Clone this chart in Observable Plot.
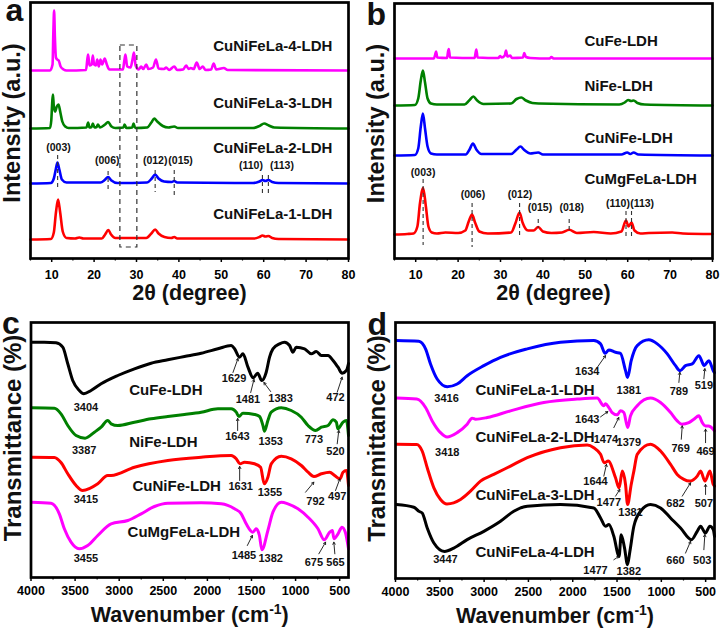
<!DOCTYPE html>
<html><head><meta charset="utf-8">
<script src="https://cdn.jsdelivr.net/npm/d3@7"></script>
<script src="https://cdn.jsdelivr.net/npm/@observablehq/plot@0.6"></script>
<style>
body{margin:0;background:#fff;}
#fig{position:relative;width:720px;height:631px;overflow:hidden;background:#fff;}
#fig > div{position:absolute;}
</style></head><body><div id="fig"></div>
<script>
// ---------- Panel a: XRD of CuNiFeLa-x-LDH (2θ, offset intensity) ----------
const xrdA_CuNiFeLa4 = [[5,188],[9.6,188],[10.2,194],[10.4,228],[10.57,248],[10.75,222],[11.0,201],[11.3,199],[11.65,198],[12.1,192],[12.8,189],[13.5,188],[18.1,188.5],[18.4,199],[18.6,204],[18.9,193],[19.4,194],[19.7,203],[20.0,194],[20.4,193],[20.75,199],[21.1,192],[21.5,199],[21.9,194],[22.5,200],[23.0,194],[23.6,189],[26.8,189],[27.1,197],[27.4,204],[27.8,192],[28.6,191],[29.1,200],[29.4,206],[29.8,193],[30.5,189],[31.1,192],[31.6,189.5],[32.3,194],[32.8,189.5],[33.9,191],[34.6,199],[35.2,190],[36.5,189.5],[37.0,191],[37.7,188.5],[38.9,192],[39.6,188.5],[41.0,189],[41.7,193],[42.3,189.5],[42.8,190.5],[43.5,189.5],[44.2,196],[44.9,189.5],[45.6,192],[46.3,188.5],[47.6,189],[48.2,195],[48.8,189],[50.6,190.5],[51.5,188.5],[80,188]];
const xrdA_CuNiFeLa3 = [[5,130],[9.6,130.5],[9.9,138],[10.15,158],[10.3,164],[10.5,152],[10.8,147],[11.2,152],[11.6,154],[12.0,147],[12.5,137],[13.2,132],[14,130.5],[18.2,131],[18.6,136],[18.9,131],[19.4,131.5],[19.7,135],[20.1,131],[20.6,131.5],[20.9,134],[21.4,131],[22.6,134],[23.3,136.5],[24.1,132],[25,130.5],[26.9,131],[27.2,134],[27.6,130.5],[29.0,131],[29.3,135],[29.7,130.5],[32.5,131],[33.5,136],[34.2,140],[34.9,137],[36.2,132.5],[37.5,131],[38.9,132],[39.8,130.5],[45,130.5],[57.5,130.5],[59.0,132.5],[60.1,135],[61.2,133],[62.5,131],[80,130]];
const xrdA_CuNiFeLa2 = [[5,75],[9.8,75.5],[10.5,80],[11.0,90],[11.35,96],[11.8,89],[12.4,79],[13.5,76],[21.5,76],[22.5,78.5],[23.3,81.5],[24.1,78],[25.5,75.5],[32.5,76],[33.6,80],[34.4,84],[35.2,80],[36.5,77],[38.3,76.5],[38.9,77.5],[39.6,76],[57.5,75.5],[59.0,77],[59.7,78.5],[60.4,77.5],[61.1,78.5],[62.0,76.5],[63.5,75.5],[80,75]];
const xrdA_CuNiFeLa1 = [[5,19],[9.8,19.5],[10.5,26],[11.0,46],[11.5,59],[12.0,46],[12.6,27],[13.5,20.5],[15.5,20],[16.5,21],[17.5,20],[21.8,20],[22.6,24],[23.35,28.5],[24.0,24],[25.0,20.5],[32.3,20.5],[33.5,25],[34.4,29],[35.2,25],[36.6,21.5],[38.2,20.5],[38.9,21.5],[39.6,20],[57.8,20],[59.0,21.5],[59.7,23],[60.4,22],[61.1,22.5],[62.0,20.5],[63.5,19.5],[80,19]];
const namesA = ["CuNiFeLa-4-LDH","CuNiFeLa-3-LDH","CuNiFeLa-2-LDH","CuNiFeLa-1-LDH"];
const nameAnchorsA = [[76.2,212.5],[76.2,155],[76.2,110.5],[76.2,44]];
const millerA = [["(003)",11.6,111],["(006)",23.1,98],["(012)",34.4,98],["(015)",40.4,98],["(110)",57.0,93],["(113)",64.3,93]];
const millerRulesA = [[11.4,103,71],[23.3,87,66],[34.4,88,66],[38.9,88,61],[59.7,83,63],[61.1,83,63]];
const boxA = [[26.2,30.2,11,213]];

// ---------- Panel b: XRD of reference LDHs ----------
const xrdB_CuFe = [[5,200],[14.3,200],[14.6,204],[14.8,207],[15.1,201],[17.4,200.5],[17.6,206],[17.8,209.5],[18.1,201],[23.9,200.5],[24.1,205],[24.3,209],[24.6,201],[29.5,200.5],[29.9,202.5],[30.3,201],[31.0,203],[31.3,208],[31.6,202],[32.3,203],[32.7,200.5],[35.3,201],[35.6,205.5],[36.0,201.5],[37,200.5],[41.6,200],[42,201.5],[42.5,200],[80,200]];
const xrdB_NiFe = [[5,153],[9.8,153.5],[10.6,160],[11.2,178],[11.7,188],[12.2,176],[12.8,160],[13.6,155],[15,154],[21.5,154],[22.6,158],[23.6,162],[24.5,158],[26,154.5],[32.5,155],[33.8,159.5],[34.9,161],[36.0,158],[37.5,155.5],[39,155],[58,154],[59.3,156],[60.1,158.5],[60.8,157.5],[61.4,158],[62.3,155.5],[64,154],[80,153]];
const xrdB_CuNiFe = [[5,103],[9.8,103.5],[10.6,110],[11.2,132],[11.7,145],[12.2,130],[12.8,112],[13.6,105],[15,104],[21.8,104],[22.7,109],[23.5,115],[24.3,109],[25.5,104.5],[32.5,104.5],[33.8,109],[34.7,112],[35.6,108.5],[37,105],[38.9,106],[40,104],[58.5,104],[59.9,106],[60.6,104.5],[61.4,106],[62.5,104],[80,103]];
const xrdB_CuMgFeLa = [[5,24],[8,24.5],[9.5,25],[10.4,32],[11.0,55],[11.75,70.5],[12.4,52],[13.0,32],[13.8,26],[15,25],[17,26],[20,25.5],[21.7,28],[22.5,37],[23.3,44],[24.0,36],[25,27],[27,25],[32.5,26],[33.5,35],[34.5,46],[35.2,36],[36.5,28],[37.8,28],[38.9,31.5],[40.0,27],[42,25.5],[44.5,26],[46.2,28.7],[48,25.5],[52,26.5],[56,25],[58.5,27],[59.6,38],[60.2,32],[60.9,36],[61.6,28],[63,25],[65,25.5],[70.5,26],[73,25],[80,24.5]];
const namesB = ["CuFe-LDH","NiFe-LDH","CuNiFe-LDH","CuMgFeLa-LDH"];
const nameAnchorsB = [[49.8,217],[49.8,172],[49.8,120.5],[49.8,79]];
const millerB = [["(003)",11.75,86],["(006)",23.5,64],["(012)",34.6,64],["(015)",39.3,51],["(018)",46.8,51],["(110)",57.7,55],["(113)",63.4,55]];
const millerRulesB = [[11.75,79,13],[23.3,55,11],[34.5,55,20],[38.9,39,30],[46.2,39,26],[59.6,47,21],[60.9,47,21]];

// ---------- Panel c: FTIR (wavenumber, offset transmittance) ----------
const ftirC_CuFe = [[3990,235.3],[3850,235.3],[3716,234.7],[3640,230.3],[3583,213.7],[3527,197],[3452,187],[3402,183.7],[3319,187],[3205,193.7],[3016,202],[2827,208.7],[2638,214.3],[2449,217.7],[2260,221],[2070,224.3],[1881,228.7],[1730,232],[1692,228.7],[1636,220.3],[1597,223.7],[1540,210.3],[1481,199.7],[1430,204.3],[1383,197],[1333,205.3],[1295,220.3],[1257,228.7],[1182,233.7],[1125,235.3],[1068,232],[1030,225.3],[992,230.3],[898,228.7],[822,223.7],[765,226],[708,222],[632,222],[575,217],[519,210.3],[472,204.3],[424,207],[400,214]];
const ftirC_NiFe = [[3990,169.7],[3735,169.3],[3660,163.7],[3583,152],[3489,142],[3387,139.3],[3281,145.3],[3205,150.3],[3130,157],[3092,153.7],[3016,152],[2827,155.3],[2638,158.7],[2449,161],[2260,163],[2070,165.3],[1881,168.7],[1730,168.7],[1673,165.3],[1643,161],[1597,164.3],[1465,163],[1408,161],[1370,152],[1353,146.3],[1314,157],[1276,165.3],[1162,169.7],[1049,167],[935,160.3],[859,152],[773,147],[708,150.3],[632,152],[575,157.7],[538,155.3],[520,148.7],[462,155.3],[424,157],[400,142]];
const ftirC_CuNiFe = [[3990,120.3],[3735,120],[3660,115],[3583,103.7],[3489,92],[3415,87],[3243,93.7],[3130,102],[3092,102],[2827,110.3],[2449,117],[2070,120.3],[1730,122],[1673,118.7],[1631,113.7],[1578,115.3],[1465,113.7],[1397,110.3],[1355,93.7],[1314,100.3],[1276,113.7],[1162,121.3],[1049,118.7],[935,112],[859,105.3],[792,101],[708,103.7],[613,105.3],[557,102],[497,98.7],[462,105.3],[424,107],[400,92]];
const ftirC_CuMgFeLa = [[3990,75.3],[3773,74.3],[3679,63.7],[3622,48.7],[3546,35.3],[3455,28.7],[3357,32],[3243,42],[3092,53.7],[2902,57],[2751,63.7],[2600,71],[2449,74.3],[2070,74.7],[1843,73.7],[1692,68.7],[1616,63.7],[1560,53.7],[1485,45.3],[1446,48.7],[1410,42],[1382,27.7],[1314,47],[1257,65.3],[1162,75.3],[1087,73.7],[973,68.7],[859,60.3],[746,48.7],[675,37.7],[613,45.3],[583,47],[565,38.7],[519,43.7],[474,50.3],[436,45.3],[400,28.7]];
const namesC = ["CuFe-LDH","NiFe-LDH","CuNiFe-LDH","CuMgFeLa-LDH"];
const nameAnchorsC = [[2887,187],[2887,135.3],[2849,91.7],[2905,45.2]];
const peaksC = [["3404",3377,170.3],["1629",1698,198.7],["1481",1540,177.7],["1383",1170,179],["472",547,180.3],["3387",3397,127],["1643",1660,141],["1353",1283,136],["773",793,137.7],["520",547,126.3],["3415",3377,77.7],["1631",1623,91],["1355",1291,85.3],["792",774,76],["497",528,81],["3455",3377,18.7],["1485",1585,22],["1382",1283,18.7],["675",793,15.3],["565",547,15.3]];
const arrowsC = [[1710,205,1653,219],[1509,185,1472,198],[1283,186,1359,195],[528,185.3,472,200.3],[1657,147,1657,159],[528,133.7,510,147],[1634,97,1634,111],[887,85.3,793,95.3],[547,87,498,98.7],[1547,32,1490,42],[736,23.7,660,35.3],[555,23.7,566,35.3]];

// ---------- Panel d: FTIR of CuNiFeLa-x-LDH ----------
const ftirD_CuNiFeLa1 = [[3990,237],[3737,236.3],[3661,228.7],[3605,213.7],[3530,198.7],[3416,191],[3304,193.7],[3191,202],[3003,212],[2815,220.3],[2513,228.7],[2138,235.3],[1762,237],[1686,233.7],[1634,224.3],[1592,227.7],[1517,225.3],[1461,224.3],[1404,207],[1381,200.3],[1340,217],[1272,232],[1141,237.7],[1046,233.7],[933,223.7],[840,212],[789,207],[727,212],[651,213.7],[576,222],[538,215.3],[519,212],[463,217],[414,207],[400,205]];
const ftirD_CuNiFeLa2 = [[3990,179.7],[3760,178.7],[3661,170.3],[3586,157],[3492,145.3],[3418,141],[3304,145.3],[3191,153.7],[3135,159.7],[3097,158.7],[2965,160.3],[2702,167],[2326,175.3],[1950,178.7],[1724,179.7],[1649,172],[1630,174],[1592,170.3],[1555,165.3],[1498,163],[1461,167],[1423,165.3],[1379,150.3],[1348,162],[1272,172],[1122,179.7],[1009,175.3],[896,165.3],[821,157],[769,153.7],[690,155.3],[633,158.7],[576,162],[538,155.3],[501,152],[469,152],[414,148.7],[400,147]];
const ftirD_CuNiFeLa3 = [[3990,133.7],[3760,133.5],[3699,127],[3642,110.3],[3567,90.3],[3492,78.7],[3419,74.3],[3266,78.7],[3154,87],[3041,97],[2891,103.7],[2702,112],[2513,120.3],[2138,130.3],[1836,133],[1762,130.3],[1686,123.7],[1644,115.3],[1600,117],[1517,100.3],[1477,90.3],[1440,107],[1404,93.7],[1381,73.7],[1340,93.7],[1310,107],[1272,123.7],[1122,133.7],[1009,127],[896,113.7],[821,103.7],[746,98.7],[682,97],[595,102],[557,107],[507,97],[452,107],[414,93.7],[400,92]];
const ftirD_CuNiFeLa4 = [[3990,73.7],[3793,71],[3737,67],[3699,65.3],[3642,50.3],[3567,35.3],[3447,27],[3342,30.3],[3191,38.7],[3003,47],[2815,57],[2665,67],[2513,72],[2138,73.7],[1762,70.3],[1686,60.3],[1630,52],[1592,53.7],[1536,42],[1477,22],[1453,43.7],[1415,30.3],[1382,13.7],[1355,27],[1310,52],[1234,67],[1122,73.7],[1009,70.3],[896,60.3],[783,50.3],[660,38.7],[595,47],[557,52],[503,45.3],[452,52],[414,48.7],[400,42]];
const namesD = ["CuNiFeLa-1-LDH","CuNiFeLa-2-LDH","CuNiFeLa-3-LDH","CuNiFeLa-4-LDH"];
const nameAnchorsD = [[3097,187.5],[3097,141.2],[3097,83],[3097,26.5]];
const peaksD = [["3416",3424,179.7],["1634",1836,206.3],["1381",1367,187],["789",802,186.3],["519",520,192],["3418",3416,125.3],["1643",1836,158.7],["1474",1625,138.7],["1379",1367,135.3],["769",783,129.7],["469",501,127],["1644",1743,97],["1477",1593,75.3],["1381",1348,65.3],["682",840,74.3],["507",520,74.3],["3447",3436,18.7],["1477",1743,7.7],["1382",1367,7],["660",840,17.7],["503",538,17.7]];
const arrowsD = [[1723,210.3,1630,222],[802,195.3,791,205.3],[520,199,509,209],[1686,161,1604,166.3],[1536,150.3,1480,160.3],[775,138.7,764,152],[501,135.3,501,148.7],[1649,102,1619,113.7],[1517,82,1468,88.7],[764,82,670,95.3],[501,83.7,501,93.7],[1536,18.7,1480,22],[727,25.3,670,37],[520,28.7,509,43.7]];

// ---------- axes ----------
const xrdTicks = [10,20,30,40,50,60,70,80];
const xrdMinor = [5,15,25,35,45,55,65,75];
const irTicks = [4000,3500,3000,2500,2000,1500,1000,500];
const irMinor = [3750,3250,2750,2250,1750,1250,750];

const FONT = "'Liberation Sans', Arial, Helvetica, sans-serif";
const fig = document.getElementById("fig");

function makePanel(c) {
  const marks = [];
  c.series.forEach(s => marks.push(Plot.line(s.data, {x: d => d[0], y: d => d[1], stroke: s.color, strokeWidth: c.lw, curve: "monotone-x"})));
  if (c.box) marks.push(Plot.rect(c.box, {x1: d => d[0], x2: d => d[1], y1: d => d[2], y2: d => d[3], fill: "none", stroke: "#333", strokeWidth: 1.2, strokeDasharray: "5,4"}));
  if (c.rules) marks.push(Plot.ruleX(c.rules, {x: d => d[0], y1: d => d[1], y2: d => d[2], stroke: "#333", strokeWidth: 1.1, strokeDasharray: "4,3"}));
  if (c.miller) marks.push(Plot.text(c.miller, {x: d => d[1], y: d => d[2], text: d => d[0], fontSize: 10.5, fontWeight: "bold", fill: "#111", fontFamily: FONT}));
  if (c.peaks) marks.push(Plot.text(c.peaks, {x: d => d[1], y: d => d[2], text: d => d[0], fontSize: 11, fontWeight: "bold", fill: "#111", fontFamily: FONT}));
  if (c.arrows) marks.push(Plot.arrow(c.arrows, {x1: d => d[0], y1: d => d[1], x2: d => d[2], y2: d => d[3], stroke: "#111", strokeWidth: 0.9, headLength: 4}));
  marks.push(Plot.text(c.names.map((n, i) => [n, ...c.nameAnchors[i]]), {x: d => d[1], y: d => d[2], text: d => d[0], textAnchor: c.nameAnchor, fontSize: 15, fontWeight: "bold", fill: "#111", fontFamily: FONT}));
  marks.push(Plot.frame({stroke: "black", strokeWidth: 2.7}));
  marks.push(Plot.axisX({ticks: c.ticks, tickSize: 4, tickPadding: c.tickPad, tickFormat: d => String(d), fontSize: 12.5, fontWeight: "bold", fontFamily: FONT, label: null, strokeWidth: 1.5}));
  marks.push(Plot.axisX({ticks: c.minor, tickSize: 2.5, tickFormat: () => "", label: null, strokeWidth: 1.2}));
  marks.push(Plot.text([c.xlabel], {text: d => d, frameAnchor: "bottom", dy: c.xlabelDy, fontSize: 21.5, fontWeight: "bold", fill: "#111", fontFamily: FONT}));
  marks.push(Plot.text([c.ylabel], {text: d => d, frameAnchor: "left", textAnchor: "middle", rotate: -90, dx: -18, dy: c.ylabelDy, fontSize: c.ylabelSize, fontWeight: "bold", fill: "#111", fontFamily: FONT}));
  marks.push(Plot.text([c.letter], {text: d => d, frameAnchor: "top-left", textAnchor: "start", lineAnchor: "top", dx: c.letterDx, dy: c.letterDy, fontSize: 32, fontWeight: "bold", fill: "#111", fontFamily: FONT}));
  const svg = Plot.plot({
    width: c.width, height: c.height,
    marginLeft: c.m[0], marginRight: c.m[1], marginTop: c.m[2], marginBottom: c.m[3],
    x: {domain: c.xDomain},
    y: {domain: c.yDomain, axis: null},
    style: {fontFamily: FONT, overflow: "visible", background: "transparent"},
    marks
  });
  svg.querySelectorAll("text").forEach(t => {
    if (t.textContent === "Wavenumber (cm-1)") {
      const ns = "http://www.w3.org/2000/svg";
      t.textContent = "Wavenumber (cm";
      const sup = document.createElementNS(ns, "tspan");
      sup.setAttribute("dy", "-8"); sup.setAttribute("font-size", "14"); sup.textContent = "-1";
      const close = document.createElementNS(ns, "tspan");
      close.setAttribute("dy", "8"); close.textContent = ")";
      t.appendChild(sup); t.appendChild(close);
    }
  });
  const div = document.createElement("div");
  div.style.left = c.left + "px"; div.style.top = c.top + "px";
  div.appendChild(svg);
  fig.appendChild(div);
}

makePanel({
  left: 0, top: 0, width: 360, height: 315, m: [30, 12, 2, 57],
  xDomain: [5, 80], yDomain: [0, 256], lw: 2.6,
  series: [{data: xrdA_CuNiFeLa4, color: "#ff00ff"}, {data: xrdA_CuNiFeLa3, color: "#008000"}, {data: xrdA_CuNiFeLa2, color: "#0000ff"}, {data: xrdA_CuNiFeLa1, color: "#ff0000"}],
  names: namesA, nameAnchors: nameAnchorsA, nameAnchor: "end",
  miller: millerA, rules: millerRulesA, box: boxA,
  ticks: xrdTicks, minor: xrdMinor, tickPad: 7.5,
  xlabel: "2θ (degree)", xlabelDy: 41, ylabel: "Intensity (a.u.)", ylabelDy: -7.5, ylabelSize: 23.5,
  letter: "a", letterDx: -25, letterDy: -4
});
makePanel({
  left: 360, top: 0, width: 360, height: 315, m: [34, 8, 3, 57],
  xDomain: [5, 80], yDomain: [0, 255], lw: 2.6,
  series: [{data: xrdB_CuFe, color: "#ff00ff"}, {data: xrdB_NiFe, color: "#008000"}, {data: xrdB_CuNiFe, color: "#0000ff"}, {data: xrdB_CuMgFeLa, color: "#ff0000"}],
  names: namesB, nameAnchors: nameAnchorsB, nameAnchor: "start",
  miller: millerB, rules: millerRulesB,
  ticks: xrdTicks, minor: xrdMinor, tickPad: 7.5,
  xlabel: "2θ (degree)", xlabelDy: 41, ylabel: "Intensity (a.u.)", ylabelDy: -7.5, ylabelSize: 23.5,
  letter: "b", letterDx: -28, letterDy: -1
});
makePanel({
  left: 0, top: 315, width: 360, height: 316, m: [30.5, 12, 7, 54],
  xDomain: [4000, 400], yDomain: [0, 255], lw: 3,
  series: [{data: ftirC_CuFe, color: "#000000"}, {data: ftirC_NiFe, color: "#008000"}, {data: ftirC_CuNiFe, color: "#ff0000"}, {data: ftirC_CuMgFeLa, color: "#ff00ff"}],
  names: namesC, nameAnchors: nameAnchorsC, nameAnchor: "start",
  peaks: peaksC, arrows: arrowsC,
  ticks: irTicks, minor: irMinor, tickPad: 5,
  xlabel: "Wavenumber (cm-1)", xlabelDy: 44, ylabel: "Transmittance (%)", ylabelDy: -12, ylabelSize: 24,
  letter: "c", letterDx: -29, letterDy: -11
});
makePanel({
  left: 360, top: 315, width: 360, height: 316, m: [35, 6, 7, 53],
  xDomain: [4000, 400], yDomain: [0, 255], lw: 3,
  series: [{data: ftirD_CuNiFeLa1, color: "#0000ff"}, {data: ftirD_CuNiFeLa2, color: "#ff00ff"}, {data: ftirD_CuNiFeLa3, color: "#ff0000"}, {data: ftirD_CuNiFeLa4, color: "#000000"}],
  names: namesD, nameAnchors: nameAnchorsD, nameAnchor: "start",
  peaks: peaksD, arrows: arrowsD,
  ticks: irTicks, minor: irMinor, tickPad: 5,
  xlabel: "Wavenumber (cm-1)", xlabelDy: 44, ylabel: "Transmittance (%)", ylabelDy: -12, ylabelSize: 24,
  letter: "d", letterDx: -28, letterDy: -10
});
</script></body></html>
